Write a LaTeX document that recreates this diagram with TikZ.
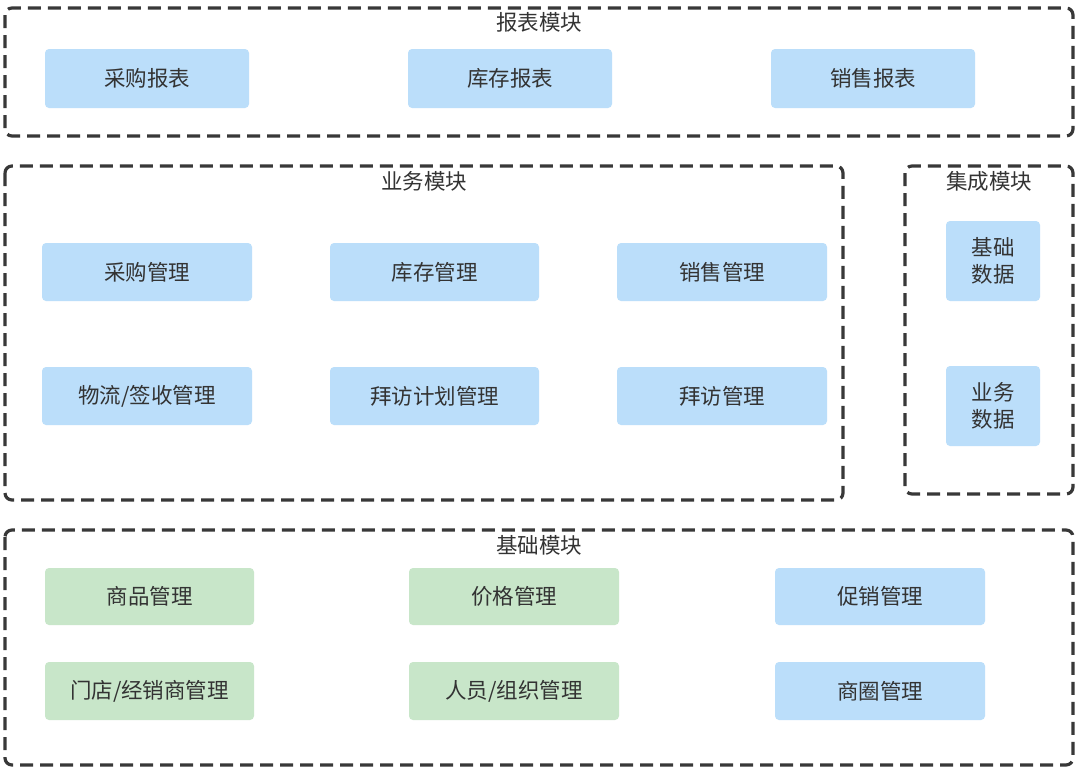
\documentclass[tikz,border=0pt]{standalone}
\usepackage{fontspec}
\setmainfont{Noto Sans CJK SC}
\begin{document}
\begin{tikzpicture}[x=1pt,y=-1pt,
  frame/.style={draw=black!78,line width=3.2pt,dash pattern=on 13pt off 7pt,rounded corners=7pt},
  ttl/.style={text=black!80,font=\fontsize{21.5}{25}\selectfont,inner sep=0pt},
  bbox/.style={fill=blueb,rounded corners=4pt,text=black!80,font=\fontsize{21.5}{25}\selectfont,align=center,inner sep=0pt},
  gbox/.style={bbox,fill=greenb}]
\definecolor{blueb}{RGB}{187,222,250}
\definecolor{greenb}{RGB}{200,230,201}
\useasboundingbox[fill=white] (0,0) rectangle (1080,771);
% frames
\draw[frame] (5,8) rectangle (1073,136);
\node[ttl] (t1) at (539,22) {报表模块};
\draw[frame] (5,166) rectangle (843,500);
\node[ttl] (t2) at (424,181) {业务模块};
\draw[frame] (905,166) rectangle (1073,494);
\node[ttl] (t3) at (989,181) {集成模块};
\draw[frame] (5,530) rectangle (1073,765);
\node[ttl] (t4) at (539,545) {基础模块};
% report
\node[bbox,minimum width=204pt,minimum height=59pt] (r1) at (147,78.5) {采购报表};
\node[bbox,minimum width=204pt,minimum height=59pt] (r2) at (510,78.5) {库存报表};
\node[bbox,minimum width=204pt,minimum height=59pt] (r3) at (873,78.5) {销售报表};
% business
\node[bbox,minimum width=210pt,minimum height=58pt] (b1) at (147,272) {采购管理};
\node[bbox,minimum width=209pt,minimum height=58pt] (b2) at (434.5,272) {库存管理};
\node[bbox,minimum width=210pt,minimum height=58pt] (b3) at (722,272) {销售管理};
\node[bbox,minimum width=210pt,minimum height=58pt] (b4) at (147,396) {物流/签收管理};
\node[bbox,minimum width=209pt,minimum height=58pt] (b5) at (434.5,396) {拜访计划管理};
\node[bbox,minimum width=210pt,minimum height=58pt] (b6) at (722,396) {拜访管理};
% integration
\node[bbox,minimum width=94pt,minimum height=80pt,text width=80pt,font=\fontsize{21.5}{27}\selectfont] (i1) at (993,261) {基础\\数据};
\node[bbox,minimum width=94pt,minimum height=80pt,text width=80pt,font=\fontsize{21.5}{27}\selectfont] (i2) at (993,406) {业务\\数据};
% base
\node[gbox,minimum width=209pt,minimum height=57pt] (g1) at (149.5,596.5) {商品管理};
\node[gbox,minimum width=210pt,minimum height=57pt] (g2) at (514,596.5) {价格管理};
\node[bbox,minimum width=210pt,minimum height=57pt] (g3) at (880,596.5) {促销管理};
\node[gbox,minimum width=209pt,minimum height=58pt] (g4) at (149.5,691) {门店/经销商管理};
\node[gbox,minimum width=210pt,minimum height=58pt] (g5) at (514,691) {人员/组织管理};
\node[bbox,minimum width=210pt,minimum height=58pt] (g6) at (880,691) {商圈管理};
\end{tikzpicture}
\end{document}
